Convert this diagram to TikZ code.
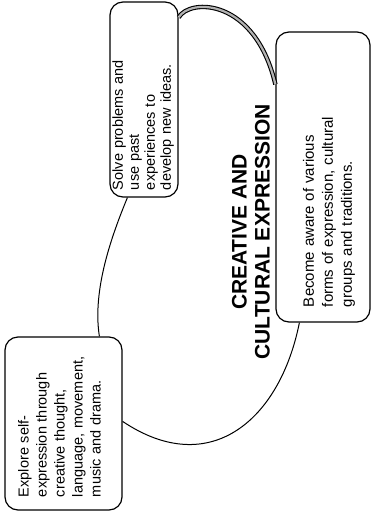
\documentclass[tikz,border=0pt]{standalone}
\usepackage{fontspec}
\setmainfont{Liberation Sans}
\usetikzlibrary{calc}
\begin{document}
\begin{tikzpicture}[x=1pt,y=-1pt,
 box/.style={draw, line width=1.2pt, rounded corners=13pt, inner sep=0pt},
 txt/.style={rotate=90, align=left, font=\fontsize{14.5}{18}\selectfont, inner sep=0pt},
 title/.style={rotate=90, align=center, font=\fontsize{21}{23}\selectfont\bfseries, inner sep=0pt},
 link/.style={line width=1pt},
 hatch/.style={draw=black, line width=1.1pt, double=gray!60, double distance=2.2pt}]
\useasboundingbox (0,0) rectangle (374,514);
% boxes
\node[box, minimum width=117pt, minimum height=173pt] (b1) at (63.5,423.5) {};
\node[box, minimum width=68pt, minimum height=195pt] (b2) at (144,99.5) {};
\node[box, minimum width=94pt, minimum height=290pt] (b3) at (323,177) {};
% texts
\node[txt, text width=147pt] (t1) at ($(b1.center)+(-4,0)$) {Explore self-\\expression through\\creative thought,\\language, movement,\\music and drama.};
\node[txt, text width=181pt, font=\fontsize{14.5}{16}\selectfont] (t2) at ($(b2.center)+(-1,0)$) {Solve problems and\\use past\\experiences to\\develop new ideas.};
\node[txt, text width=260pt, font=\fontsize{15}{19}\selectfont] (t3) at ($(b3.center)+(6,0)$) {Become aware of various\\forms of expression, cultural\\groups and traditions.};
\node[title] (t0) at (251,232) {CREATIVE AND\\CULTURAL EXPRESSION};
% connectors
\coordinate (c2a) at ($(b2.north east)+(0,16)$);
\coordinate (c3a) at ($(b3.north west)+(0,53)$);
\coordinate (c3b) at ($(b3.south west)+(24,0)$);
\coordinate (c1a) at ($(b1.north east)+(0,85)$);
\coordinate (c1b) at ($(b1.north west)+(95,0)$);
\coordinate (c2b) at ($(b2.south west)+(18,0)$);
\draw[hatch] (c2a) .. controls (190,-2) and (255,-2) .. (c3a);
\draw[link] (c3b) .. controls (280,420) and (210,480) .. (c1a);
\draw[link] (c1b) .. controls (92,290) and (112,235) .. (c2b);
\end{tikzpicture}
\end{document}
